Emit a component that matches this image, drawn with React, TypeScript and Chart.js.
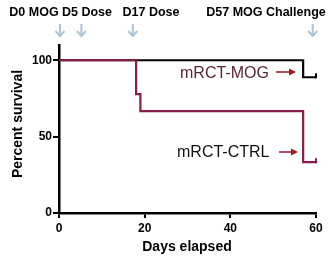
import React, { useEffect, useRef } from "react";
import { Chart, registerables } from "chart.js";

Chart.register(...registerables);

// ---- data ----
const ctrlDays = [0, 18, 19, 57, 60];
const ctrlSurvival = [100, 77.8, 66.7, 33.3, 33.3];
const mogDays = [0, 57, 60];
const mogSurvival = [100, 88.9, 88.9];
const yTickValues = [0, 50, 100];
const xTickValues = [0, 20, 40, 60];
const eventLabels = ["D0 MOG", "D5 Dose", "D17 Dose", "D57 MOG Challenge"];
const eventArrowDays = [0, 5, 17, 59];
const seriesNames = ["mRCT-CTRL", "mRCT-MOG"];

const FONT = "'Liberation Sans', Arial, Helvetica, sans-serif";
const CTRL_COLOR = "#8a1a48";
const MOG_COLOR = "#000000";

function drawArrowRight(ctx: CanvasRenderingContext2D, x0: number, x1: number, y: number, color: string) {
  ctx.save();
  ctx.strokeStyle = color;
  ctx.fillStyle = color;
  ctx.lineWidth = 1.5;
  ctx.beginPath();
  ctx.moveTo(x0, y);
  ctx.lineTo(x1 - 5, y);
  ctx.stroke();
  ctx.beginPath();
  ctx.moveTo(x1, y);
  ctx.lineTo(x1 - 7, y - 3.5);
  ctx.lineTo(x1 - 7, y + 3.5);
  ctx.closePath();
  ctx.fill();
  ctx.restore();
}

function drawArrowDown(ctx: CanvasRenderingContext2D, x: number, y0: number, y1: number) {
  ctx.save();
  ctx.strokeStyle = "#a9c6da";
  ctx.lineWidth = 2;
  ctx.beginPath();
  ctx.moveTo(x, y0);
  ctx.lineTo(x, y1);
  ctx.moveTo(x - 4.5, y1 - 5);
  ctx.lineTo(x, y1);
  ctx.lineTo(x + 4.5, y1 - 5);
  ctx.stroke();
  ctx.restore();
}

const annotationPlugin = {
  id: "annotations",
  afterDatasetsDraw(chart: any) {
    const ctx: CanvasRenderingContext2D = chart.ctx;
    // censor ticks at the end of each curve
    chart.data.datasets.forEach((ds: any, i: number) => {
      const meta = chart.getDatasetMeta(i);
      const last = meta.data[meta.data.length - 1];
      ctx.save();
      ctx.strokeStyle = ds.borderColor;
      ctx.lineWidth = 2;
      ctx.beginPath();
      ctx.moveTo(last.x, last.y + 1);
      ctx.lineTo(last.x, last.y - 4);
      ctx.stroke();
      ctx.restore();
    });
  },
  afterDraw(chart: any) {
    const ctx: CanvasRenderingContext2D = chart.ctx;
    const xs = chart.scales.x;
    // top event labels
    ctx.save();
    ctx.fillStyle = "#000";
    ctx.font = `bold 12.5px ${FONT}`;
    ctx.textBaseline = "middle";
    ctx.textAlign = "center";
    const labelCenters = [34, 87, 151, 266];
    eventLabels.forEach((t, i) => ctx.fillText(t, labelCenters[i], 13));
    ctx.restore();
    eventArrowDays.forEach((d) => drawArrowDown(ctx, xs.getPixelForValue(d) + 1, 24, 36));

    // series labels
    ctx.save();
    ctx.font = `16px ${FONT}`;
    ctx.textBaseline = "middle";
    ctx.textAlign = "left";
    ctx.fillStyle = "#5a2630";
    ctx.fillText(seriesNames[1], 180, 74);
    ctx.fillStyle = "#111";
    ctx.fillText(seriesNames[0], 177, 153);
    ctx.restore();
    drawArrowRight(ctx, 276, 296, 72, "#a3161f");
    drawArrowRight(ctx, 279, 298, 152, "#a3161f");

    // axis titles
    ctx.save();
    ctx.fillStyle = "#000";
    ctx.font = `bold 14px ${FONT}`;
    ctx.textAlign = "center";
    ctx.textBaseline = "middle";
    ctx.fillText("Days elapsed", 187, 247);
    ctx.translate(18, 124);
    ctx.rotate(-Math.PI / 2);
    ctx.fillText("Percent survival", 0, 0);
    ctx.restore();
  },
};

export default function App() {
  const ref = useRef<HTMLCanvasElement>(null);
  useEffect(() => {
    if (!ref.current) return;
    const chart = new Chart(ref.current, {
      type: "line",
      data: {
        datasets: [
          {
            label: seriesNames[0],
            data: ctrlDays.map((d, i) => ({ x: d, y: ctrlSurvival[i] })),
            borderColor: CTRL_COLOR,
            borderWidth: 2.2,
            stepped: true,
            pointRadius: 0,
            fill: false,
          },
          {
            label: seriesNames[1],
            data: mogDays.map((d, i) => ({ x: d, y: mogSurvival[i] })),
            borderColor: MOG_COLOR,
            borderWidth: 2.2,
            stepped: true,
            pointRadius: 0,
            fill: false,
          },
        ],
      },
      options: {
        animation: false,
        responsive: false,
        layout: { padding: { top: 45, right: 17, left: 0, bottom: 0 } },
        plugins: { legend: { display: false }, tooltip: { enabled: false } },
        scales: {
          x: {
            type: "linear",
            min: 0,
            max: 60,
            afterBuildTicks: (s: any) => {
              s.ticks = xTickValues.map((v) => ({ value: v }));
            },
            afterFit: (s: any) => {
              s.height = 47;
            },
            ticks: {
              color: "#000",
              font: { family: FONT, size: 12, weight: "bold" },
              padding: 3,
              maxRotation: 0,
            },
            grid: { drawOnChartArea: false, drawTicks: true, tickLength: 5, color: "#000", lineWidth: 2 },
            border: { color: "#000", width: 2.5 },
          },
          y: {
            type: "linear",
            min: 0,
            max: 110,
            afterBuildTicks: (s: any) => {
              s.ticks = yTickValues.map((v) => ({ value: v }));
            },
            afterFit: (s: any) => {
              s.width = 59;
            },
            ticks: {
              color: "#000",
              font: { family: FONT, size: 12, weight: "bold" },
              padding: 1,
            },
            grid: { drawOnChartArea: false, drawTicks: true, tickLength: 6, color: "#000", lineWidth: 2 },
            border: { color: "#000", width: 2.5 },
          },
        },
      },
      plugins: [annotationPlugin],
    } as any);
    return () => chart.destroy();
  }, []);
  return (
    <div style={{ position: "absolute", left: 0, top: 0, width: 333, height: 260, background: "#fff" }}>
      <canvas ref={ref} width={333} height={260} />
    </div>
  );
}
